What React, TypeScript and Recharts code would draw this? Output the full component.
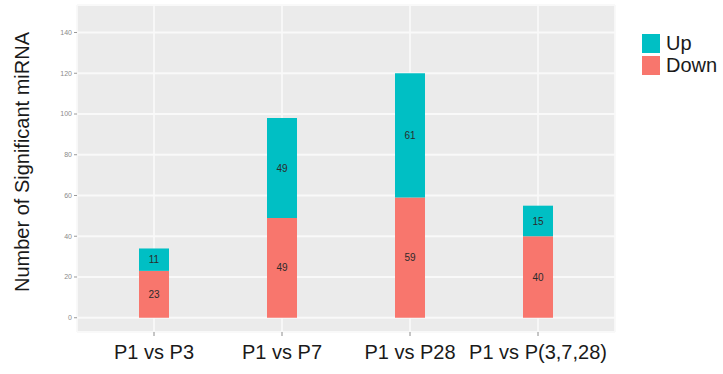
import React from 'react';
import { BarChart, Bar, XAxis, YAxis, CartesianGrid, LabelList } from 'recharts';

// Comparisons along the x axis
const categories = ['P1 vs P3', 'P1 vs P7', 'P1 vs P28', 'P1 vs P(3,7,28)'];
// Down-regulated miRNA counts per comparison
const downCounts = [23, 49, 59, 40];
// Up-regulated miRNA counts per comparison
const upCounts = [11, 49, 61, 15];
// Y axis tick values
const yTicks = [0, 20, 40, 60, 80, 100, 120, 140];

const UP_COLOR = '#00BFC4';
const DOWN_COLOR = '#F8766D';
const FONT = '"Liberation Sans", Arial, sans-serif';

const data = categories.map((name, i) => ({ name, Down: downCounts[i], Up: upCounts[i] }));

const legendItems = [
  { label: 'Up', color: UP_COLOR },
  { label: 'Down', color: DOWN_COLOR },
];

const LegendBox = () => (
  <div style={{ position: 'absolute', left: 642, top: 32, fontFamily: FONT }}>
    {legendItems.map((it) => (
      <div key={it.label} style={{ display: 'flex', alignItems: 'center', height: 22 }}>
        <div style={{ width: 18, height: 19, background: it.color, marginRight: 6 }} />
        <span style={{ fontSize: 20, color: '#1a1a1a', lineHeight: '20px' }}>{it.label}</span>
      </div>
    ))}
  </div>
);

const YTitle = () => (
  <text
    x={22}
    y={162}
    transform="rotate(-90 22 162)"
    textAnchor="middle"
    dominantBaseline="central"
    fontSize={20}
    fontFamily={FONT}
    fill="#1a1a1a"
  >
    Number of Significant miRNA
  </text>
);

export default function App() {
  return (
    <div style={{ position: 'absolute', left: 0, top: 0, width: 723, height: 374, background: '#fff' }}>
      <BarChart
        width={723}
        height={374}
        data={data}
        margin={{ top: 5, right: 108, left: 0, bottom: 12 }}
        barSize={30}
      >
        <CartesianGrid stroke="#F9F9F9" strokeWidth={1.8} fill="#EBEBEB" />
        <XAxis
          dataKey="name"
          height={30}
          padding={{ left: 13, right: 13 }}
          axisLine={false}
          tickSize={4}
          tickMargin={9}
          tickLine={{ stroke: '#8c8c8c' }}
          tick={{ fontSize: 20, fill: '#1a1a1a', fontFamily: FONT }}
          interval={0}
        />
        <YAxis
          width={77}
          domain={[-7, 153.5]}
          ticks={yTicks}
          allowDataOverflow
          axisLine={false}
          tickSize={3}
          tickMargin={2}
          tickLine={{ stroke: '#9a9a9a' }}
          tick={{ fontSize: 7, fill: '#8a8a8a', fontFamily: FONT }}
          label={{ content: () => <YTitle /> }}
        />
        <Bar dataKey="Down" stackId="a" fill={DOWN_COLOR} isAnimationActive={false}>
          <LabelList dataKey="Down" position="center" fontSize={10} fill="#2b2b2b" fontFamily={FONT} />
        </Bar>
        <Bar dataKey="Up" stackId="a" fill={UP_COLOR} isAnimationActive={false}>
          <LabelList dataKey="Up" position="center" fontSize={10} fill="#2b2b2b" fontFamily={FONT} />
        </Bar>
      </BarChart>
      <LegendBox />
    </div>
  );
}
